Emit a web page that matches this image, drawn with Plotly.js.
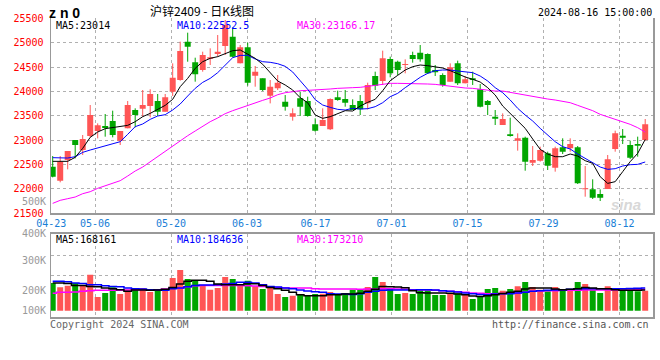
<!DOCTYPE html>
<html><head><meta charset="utf-8">
<script src="https://cdn.plot.ly/plotly-3.0.1.min.js"></script>
<style>html,body{margin:0;padding:0;background:#fff}#chart{width:660px;height:360px}</style>
</head><body><div id="chart"></div>
<script>
const dates = ['04-23','04-24','04-25','04-26','04-29','04-30',
'05-06','05-07','05-08','05-09','05-10','05-13','05-14','05-15','05-16','05-17','05-20','05-21','05-22','05-23','05-24','05-27','05-28','05-29','05-30','05-31',
'06-03','06-04','06-05','06-06','06-07','06-11','06-12','06-13','06-14','06-17','06-18','06-19','06-20','06-21','06-24','06-25','06-26','06-27','06-28',
'07-01','07-02','07-03','07-04','07-05','07-08','07-09','07-10','07-11','07-12','07-15','07-16','07-17','07-18','07-19','07-22','07-23','07-24','07-25','07-26','07-29','07-30','07-31',
'08-01','08-02','08-05','08-06','08-07','08-08','08-09','08-12','08-13','08-14','08-15','08-16'];

const open = [22456,22169,22593,23003,22798,23085,23188,23290,23393,22990,
23243,23619,23646,23701,23803,23585,23995,24234,25021,24597,
24439,24672,24768,24932,25123,24576,24904,24323,24268,23913,
24063,23790,23482,23858,23803,23325,23290,23222,23879,23844,
23721,23803,23755,24316,24214,24665,24610,24542,24747,24795,
24768,24439,24337,24200,24576,24166,24268,24043,23803,23482,
23311,23120,22990,23051,22538,22579,22730,22436,22853,22832,
22853,21991,21991,21895,21998,22819,23092,22901,22921,23003];
const high = [22675,22675,22778,23003,23106,23721,23345,23537,23605,23188,
23803,23653,24029,24043,23947,23947,24576,25021,25205,24692,
24815,24884,25157,25465,25315,24952,25000,24521,24268,24234,
24337,23926,23653,23995,23892,23448,23653,23858,24015,24029,
23838,23926,24179,24405,24836,24713,24631,24658,24815,24952,
24781,24542,24371,24576,24631,24316,24405,24152,23824,23619,
23550,23461,23140,23072,22880,22867,22764,22867,23038,23038,
22880,22470,22197,21991,22696,23195,23229,22990,23072,23434];
const low = [22237,22135,22402,22627,22696,23058,23037,23072,23058,22901,
23243,23263,23482,23468,23496,23585,23906,24220,24610,24200,
24405,24542,24713,24747,24699,24576,24118,24097,24008,23755,
24029,23605,23400,23496,23482,23174,23290,23208,23810,23687,
23619,23516,23632,24029,24132,24289,24337,24371,24590,24610,
24357,24316,24097,24200,24132,24166,24132,23673,23516,23311,
23311,23072,22785,22374,22470,22559,22388,22354,22716,22764,
22101,21841,21793,21752,21998,22764,22921,22614,22661,22990];
const close = [22251,22559,22778,22901,23024,23516,23304,23249,23106,23188,
23721,23516,23721,23947,23585,23879,24282,24829,24918,24350,
24747,24699,24815,25362,24713,24904,24179,24405,24029,24097,
24179,23687,23550,23687,23496,23195,23413,23844,23824,23769,
23619,23632,24132,24118,24679,24371,24439,24562,24665,24658,
24371,24391,24132,24494,24166,24248,24234,23687,23721,23441,
23434,23085,23038,22559,22593,22798,22477,22832,22764,22921,
22114,22012,21820,21820,22607,23140,23051,22641,22887,23325];

const ma5 = [22566,22566,22566,22648,22832,23058,23167,23236,23256,23277,
23304,23379,23482,23550,23632,23714,23838,24097,24268,24473,
24610,24679,24713,24781,24836,24850,24768,24679,24556,24385,
24214,24132,24029,23872,23769,23516,23448,23482,23550,23605,
23598,23701,23776,23838,24015,24220,24330,24439,24508,24542,
24528,24501,24480,24426,24357,24296,24248,24193,24077,23926,
23701,23550,23414,23243,23024,22812,22716,22661,22661,22716,
22675,22579,22525,22251,22114,22149,22354,22559,22730,23014];
const ma10 = [22641,22641,22634,22661,22750,22798,22839,22880,22914,22969,
23120,23277,23332,23427,23496,23523,23619,23742,23906,24063,
24186,24268,24385,24535,24692,24740,24740,24665,24610,24597,
24569,24515,24398,24220,24043,23831,23721,23673,23632,23619,
23653,23639,23646,23687,23769,23892,23961,24077,24186,24289,
24371,24426,24439,24439,24419,24405,24385,24316,24214,24077,
23974,23824,23653,23516,23393,23243,23106,22969,22867,22819,
22716,22627,22538,22449,22402,22415,22470,22497,22504,22552.5];
const ma30 = [21704,21766,21800,21834,21902,21943,22012,22067,22121,22169,
22265,22367,22449,22559,22661,22764,22887,22996,23092,23188,
23291,23379,23455,23544,23605,23660,23721,23769,23817,23865,
23933,23974,24002,24015,24022,24029,24029,24050,24063,24077,
24077,24084,24104,24138,24159,24166,24166,24166,24166,24166,
24152,24145,24125,24104,24091,24070,24063,24043,24022,24008,
24008,23981,23954,23920,23892,23858,23844,23824,23803,23769,
23714,23660,23605,23530,23482,23420,23379,23325,23256,23166.17];

const volume = [224000,190000,203000,224000,206000,292000,111000,143000,190000,135000,
170000,170000,184000,151000,176000,170000,265000,330000,257000,246000,
206000,170000,184000,273000,257000,206000,243000,198000,176000,198000,
135000,111000,122000,135000,122000,135000,138000,151000,135000,143000,
170000,170000,192000,273000,232000,176000,135000,143000,135000,170000,
165000,127000,127000,141000,141000,130000,95000,117000,176000,184000,
162000,176000,198000,232000,192000,170000,157000,192000,170000,170000,
232000,216000,170000,143000,198000,184000,170000,170000,157000,162000];
const volMa5 = [224000,224000,221000,205000,205000,197000,194000,184000,178000,170000,
157000,168000,168000,165000,168000,173000,189000,216000,238000,246000,
246000,238000,216000,211000,211000,211000,219000,219000,205000,189000,
178000,165000,149000,130000,122000,122000,122000,130000,130000,135000,
135000,141000,157000,173000,197000,194000,192000,186000,162000,146000,
143000,143000,143000,141000,135000,130000,119000,116000,122000,130000,
140000,149000,157000,176000,184000,184000,184000,176000,170000,173000,
178000,189000,184000,178000,178000,170000,165000,165000,165000,168161];
const volMa10 = [238000,238000,235000,224000,221000,211000,211000,202000,197000,194000,
184000,178000,176000,170000,168000,165000,178000,184000,194000,205000,
208000,208000,211000,216000,221000,230000,230000,224000,211000,197000,
192000,184000,178000,168000,159000,154000,149000,138000,135000,135000,
132000,138000,149000,157000,165000,168000,168000,168000,168000,170000,
170000,168000,162000,157000,151000,143000,138000,132000,130000,135000,
138000,138000,143000,149000,157000,162000,165000,168000,168000,173000,
178000,178000,178000,178000,178000,178000,178000,180000,182000,184636];
const volMa30 = [141000,149000,149000,151000,157000,162000,165000,165000,165000,165000,
168000,170000,170000,170000,170000,176000,184000,184000,194000,202000,
205000,205000,205000,205000,205000,205000,202000,200000,197000,192000,
189000,184000,184000,184000,184000,178000,176000,176000,176000,176000,
175000,173000,176000,176000,178000,178000,176000,173000,170000,168000,
168000,165000,162000,157000,154000,149000,143000,141000,138000,138000,
139000,141000,143000,149000,157000,159000,162000,162000,165000,165000,
165000,168000,168000,168000,168000,168000,168000,168000,170000,173210];

const tickDates = ['04-23','05-06','05-20','06-03','06-17','07-01','07-15','07-29','08-12'];
const priceTicks = [21500,22000,22500,23000,23500,24000,24500,25000,25500];
const volLabels = ['500K','400K','300K','200K','100K'];
const priceLegend = ['MA5:23014','MA10:22552.5','MA30:23166.17'];
const volLegend = ['MA5:168161','MA10:184636','MA30:173210'];

const W = 660, H = 360;
const px = x => x / W, py = y => 1 - y / H;
const MONO = 'DejaVu Sans Mono, monospace';
const UP = '#ff5555', DOWN = '#00a600';
const GRID = '#b0b0b0', BORDER = '#999999';

const xs = dates.map((d, i) => i);
const isUp = xs.map(i => close[i] >= open[i]);
const candleColor = xs.map(i => isUp[i] ? UP : DOWN);

function wicks(up) {
  const x = [], y = [];
  xs.forEach(i => { if (isUp[i] === up) { x.push(i, i, null); y.push(low[i], high[i], null); } });
  return {type: 'scatter', mode: 'lines', x, y, xaxis: 'x', yaxis: 'y',
    line: {color: up ? UP : DOWN, width: 1}, hoverinfo: 'skip'};
}

const bodyBase = xs.map(i => Math.min(open[i], close[i]));
const bodyLen = xs.map(i => Math.max(Math.abs(close[i] - open[i]), 22));

const tickIdx = tickDates.map(d => dates.indexOf(d));
const tickPos = tickIdx.map(k => Math.max(-0.2, k * 7.6 / 7.5 - 0.43));

const traces = [
  wicks(true), wicks(false),
  {type: 'bar', x: xs, base: bodyBase, y: bodyLen, width: 0.8, xaxis: 'x', yaxis: 'y',
    marker: {color: candleColor, line: {width: 0}}, hoverinfo: 'skip'},
  {type: 'scatter', mode: 'lines', x: xs, y: ma30, line: {color: '#ff00ff', width: 1}, hoverinfo: 'skip'},
  {type: 'scatter', mode: 'lines', x: xs, y: ma10, line: {color: '#0000ff', width: 1}, hoverinfo: 'skip'},
  {type: 'scatter', mode: 'lines', x: xs, y: ma5, line: {color: '#000000', width: 1}, hoverinfo: 'skip'},
  {type: 'bar', x: xs, y: volume, width: 0.8, xaxis: 'x2', yaxis: 'y2',
    marker: {color: candleColor, line: {width: 0}}, hoverinfo: 'skip'},
  {type: 'scatter', mode: 'lines', x: xs, y: volMa30, xaxis: 'x2', yaxis: 'y2', line: {color: '#ff00ff', width: 1.5, shape: 'hvh'}, hoverinfo: 'skip'},
  {type: 'scatter', mode: 'lines', x: xs, y: volMa10, xaxis: 'x2', yaxis: 'y2', line: {color: '#0000ff', width: 1.5, shape: 'hvh'}, hoverinfo: 'skip'},
  {type: 'scatter', mode: 'lines', x: xs, y: volMa5, xaxis: 'x2', yaxis: 'y2', line: {color: '#000000', width: 1.5, shape: 'hvh'}, hoverinfo: 'skip'}
];

function ann(text, x, y, color, size, xanchor, family, extra) {
  return Object.assign({text, x: px(x), y: py(y), xref: 'paper', yref: 'paper',
    xanchor: xanchor || 'left', yanchor: 'middle', showarrow: false, borderpad: 0,
    font: {family: family || MONO, size: size || 10, color: color || '#000'}}, extra || {});
}

const maColors = ['#000000', '#0000ff', '#ff00ff'];
const legendX = [55, 175.5, 296];
const volLabelY = [201, 233, 260, 290.7, 310.7];

const annotations = [
  ann('<b>z n 0</b>', 48, 13, '#000', 14, 'left', 'Liberation Sans, Arial, sans-serif'),
  ann('沪锌2409 - 日K线图', 202, 10.5, '#000', 12, 'center', 'Noto Sans CJK SC, sans-serif'),
  ann('2024-08-16 15:00:00', 653, 13, '#000', 10, 'right'),
  ann('Copyright 2024 SINA.COM', 49, 324, '#666', 10, 'left'),
  ann('http://finance.sina.com.cn', 650, 324, '#555', 10, 'right'),
  ann('<b><i>sina</i></b>', 626, 204, '#d8d8d8', 15, 'center', 'Liberation Sans, Arial, sans-serif')
];
priceLegend.forEach((t, k) => annotations.push(ann(t, legendX[k], 25.5, maColors[k], 10, 'left')));
volLegend.forEach((t, k) => annotations.push(ann(t, legendX[k], 239.5, maColors[k], 10, 'left')));
volLabels.forEach((t, k) => annotations.push(ann(t, 47, volLabelY[k], '#999', 10, 'right')));

const layout = {
  width: W, height: H, margin: {l: 0, r: 0, t: 0, b: 0},
  paper_bgcolor: '#fff', plot_bgcolor: '#fff', showlegend: false, barmode: 'overlay',
  xaxis: {domain: [px(51), px(653)], range: [-0.227, 80.04], anchor: 'y',
    tickmode: 'array', tickvals: tickPos, ticktext: tickDates, ticks: '',
    tickfont: {family: MONO, size: 10, color: '#1a7ed6'},
    showgrid: true, gridcolor: GRID, griddash: 'dot', gridwidth: 1,
    showline: true, linecolor: BORDER, linewidth: 2, zeroline: false, fixedrange: true},
  yaxis: {domain: [py(213.3), py(18.3)], range: [21500, 25500], anchor: 'x',
    tickmode: 'array', tickvals: priceTicks, ticktext: priceTicks.map(v => String(v)),
    ticks: '', ticklabelstandoff: 4,
    tickfont: {family: MONO, size: 10, color: '#ff0000'},
    showgrid: true, gridcolor: GRID, griddash: 'dot', gridwidth: 1,
    showline: true, mirror: true, linecolor: BORDER, linewidth: 1.5, zeroline: false, fixedrange: true},
  xaxis2: {domain: [px(51), px(653)], matches: 'x', anchor: 'y2',
    tickmode: 'array', tickvals: tickPos, showticklabels: false, ticks: '',
    showgrid: true, gridcolor: GRID, griddash: 'dot', gridwidth: 1,
    showline: true, mirror: true, linecolor: BORDER, linewidth: 2, zeroline: false, fixedrange: true},
  yaxis2: {domain: [py(317.3), py(234)], range: [-53000, 621000], anchor: 'x2',
    tickmode: 'array', tickvals: [287000, 449000], showticklabels: false, ticks: '',
    showgrid: true, gridcolor: GRID, griddash: 'dot', gridwidth: 1,
    showline: true, mirror: true, linecolor: BORDER, linewidth: 1.5, zeroline: false, fixedrange: true},
  annotations
};

Plotly.newPlot('chart', traces, layout, {displayModeBar: false, staticPlot: true});
</script></body></html>
